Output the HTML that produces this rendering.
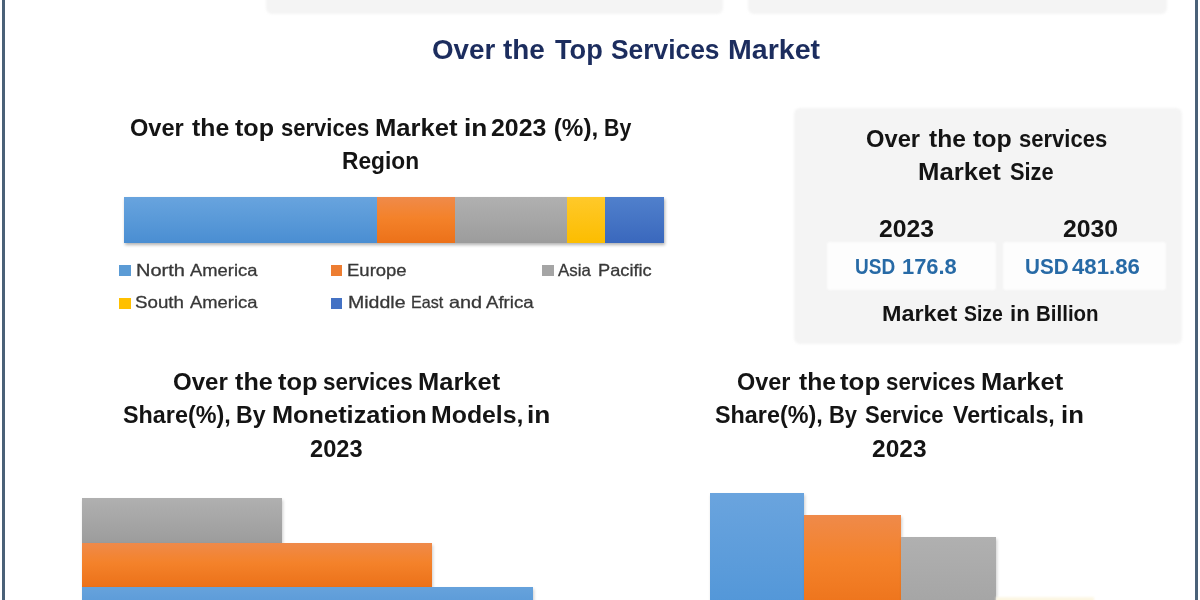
<!DOCTYPE html>
<html><head><meta charset="utf-8"><style>
html,body{margin:0;padding:0;width:1200px;height:600px;overflow:hidden;background:#fff;}
body{position:relative;font-family:"Liberation Sans",sans-serif;}
.t{position:absolute;white-space:pre;transform-origin:0 0;}
.r{position:absolute;}
</style></head><body><div id="w" style="position:absolute;left:0;top:0;width:1200px;height:600px;filter:blur(0.4px)">
<div class="r" style="left:1.5px;top:0;width:3px;height:600px;background:#4a6178"></div>
<div class="r" style="left:1195px;top:0;width:3px;height:600px;background:#4a6178"></div>
<div class="r" style="left:266px;top:-20px;width:457px;height:34px;background:#f4f4f4;border-radius:6px;filter:blur(1px)"></div>
<div class="r" style="left:748px;top:-20px;width:419px;height:34px;background:#f4f4f4;border-radius:6px;filter:blur(1px)"></div>
<div class="r" style="left:794px;top:108px;width:388px;height:236px;background:#f4f4f4;border-radius:6px;filter:blur(0.8px)"></div>
<div class="r" style="left:827px;top:241.5px;width:169px;height:48px;background:#fdfdfd;border-radius:3px;filter:blur(0.8px)"></div>
<div class="r" style="left:1002.5px;top:241.5px;width:163.5px;height:48px;background:#fdfdfd;border-radius:3px;filter:blur(0.8px)"></div>
<!-- region bar -->
<div class="r" style="left:124px;top:197px;width:540px;height:46px;box-shadow:1px 2px 3px rgba(0,0,0,0.3)"></div>
<div class="r" style="left:124px;top:197px;width:253px;height:46px;background:linear-gradient(#68a4de,#4a8ed2)"></div>
<div class="r" style="left:377px;top:197px;width:78px;height:46px;background:linear-gradient(#ef8a4a,#f4822a 45%,#ec7119)"></div>
<div class="r" style="left:455px;top:197px;width:112px;height:46px;background:linear-gradient(#b0b0b0,#9c9c9c)"></div>
<div class="r" style="left:567px;top:197px;width:38px;height:46px;background:linear-gradient(#ffc92a,#fcbd00)"></div>
<div class="r" style="left:605px;top:197px;width:59px;height:46px;background:linear-gradient(#5080cc,#3a68bd)"></div>
<!-- legend squares -->
<div class="r" style="left:119px;top:265px;width:12px;height:11px;background:#5b9bd5"></div>
<div class="r" style="left:331px;top:265px;width:11px;height:11px;background:#ed7d31"></div>
<div class="r" style="left:542px;top:265px;width:12px;height:11px;background:#a5a5a5"></div>
<div class="r" style="left:119px;top:298px;width:12px;height:11px;background:#ffc000"></div>
<div class="r" style="left:331px;top:298px;width:11px;height:11px;background:#4472c4"></div>
<!-- bottom left bars -->
<div class="r" style="left:82px;top:498px;width:200px;height:45px;background:linear-gradient(#b0b0b0,#9c9c9c);box-shadow:1px 2px 3px rgba(0,0,0,0.2)"></div>
<div class="r" style="left:82px;top:543px;width:350px;height:44px;background:linear-gradient(#ef8a4a,#f4822a 45%,#ec7119);box-shadow:1px 2px 3px rgba(0,0,0,0.2)"></div>
<div class="r" style="left:82px;top:587px;width:451px;height:20px;background:linear-gradient(#66a2dc,#5a9ad8);box-shadow:1px 2px 3px rgba(0,0,0,0.2)"></div>
<!-- bottom right bars -->
<div class="r" style="left:710px;top:493px;width:94px;height:120px;background:linear-gradient(#6aa4de,#5196d8);box-shadow:1px 2px 3px rgba(0,0,0,0.2)"></div>
<div class="r" style="left:804px;top:515px;width:97px;height:100px;background:linear-gradient(#ef8a4a,#f4822a 45%,#ec7119);box-shadow:1px 2px 3px rgba(0,0,0,0.2)"></div>
<div class="r" style="left:901px;top:537px;width:95px;height:80px;background:linear-gradient(#b0b0b0,#a3a3a3);box-shadow:1px 2px 3px rgba(0,0,0,0.2)"></div>
<div class="r" style="left:996px;top:597px;width:98px;height:10px;background:linear-gradient(#fdf8e8,#fbefd2);filter:blur(0.8px)"></div>

<div class="t" style="left:431.50px;top:36.37px;font-size:27.91px;line-height:27.91px;font-weight:bold;color:#1c2d5e;transform:scaleX(0.9952)">Over</div>
<div class="t" style="left:503.30px;top:36.37px;font-size:27.91px;line-height:27.91px;font-weight:bold;color:#1c2d5e;transform:scaleX(0.9976)">the</div>
<div class="t" style="left:555.00px;top:36.37px;font-size:27.91px;line-height:27.91px;font-weight:bold;color:#1c2d5e;transform:scaleX(0.9729)">Top</div>
<div class="t" style="left:611.05px;top:36.37px;font-size:27.91px;line-height:27.91px;font-weight:bold;color:#1c2d5e;transform:scaleX(0.9451)">Services</div>
<div class="t" style="left:728.25px;top:36.37px;font-size:27.91px;line-height:27.91px;font-weight:bold;color:#1c2d5e;transform:scaleX(1.0239)">Market</div>
<div class="t" style="left:130.03px;top:115.66px;font-size:24.27px;line-height:24.27px;font-weight:bold;color:#141414;transform:scaleX(0.9722)">Over</div>
<div class="t" style="left:191.75px;top:115.66px;font-size:24.27px;line-height:24.27px;font-weight:bold;color:#141414;transform:scaleX(1.0208)">the</div>
<div class="t" style="left:235.25px;top:115.66px;font-size:24.27px;line-height:24.27px;font-weight:bold;color:#141414;transform:scaleX(1.0338)">top</div>
<div class="t" style="left:280.84px;top:115.66px;font-size:24.27px;line-height:24.27px;font-weight:bold;color:#141414;transform:scaleX(0.9079)">services</div>
<div class="t" style="left:374.89px;top:115.66px;font-size:24.27px;line-height:24.27px;font-weight:bold;color:#141414;transform:scaleX(1.0566)">Market</div>
<div class="t" style="left:464.08px;top:115.66px;font-size:24.27px;line-height:24.27px;font-weight:bold;color:#141414;transform:scaleX(1.0833)">in</div>
<div class="t" style="left:490.73px;top:115.66px;font-size:24.27px;line-height:24.27px;font-weight:bold;color:#141414;transform:scaleX(1.0240)">2023</div>
<div class="t" style="left:553.75px;top:115.66px;font-size:24.27px;line-height:24.27px;font-weight:bold;color:#141414;transform:scaleX(1.0000)">(%),</div>
<div class="t" style="left:603.99px;top:115.66px;font-size:24.27px;line-height:24.27px;font-weight:bold;color:#141414;transform:scaleX(0.8793)">By</div>
<div class="t" style="left:342.10px;top:148.70px;font-size:23.98px;line-height:23.98px;font-weight:bold;color:#141414;transform:scaleX(0.9487)">Region</div>
<div class="t" style="left:135.80px;top:262.55px;font-size:16.72px;line-height:16.72px;font-weight:normal;color:#383838;transform:scaleX(1.1974);-webkit-text-stroke:0.3px #383838">North</div>
<div class="t" style="left:189.50px;top:262.55px;font-size:16.72px;line-height:16.72px;font-weight:normal;color:#383838;transform:scaleX(1.1000);-webkit-text-stroke:0.3px #383838">America</div>
<div class="t" style="left:347.29px;top:262.55px;font-size:16.72px;line-height:16.72px;font-weight:normal;color:#383838;transform:scaleX(1.1077);-webkit-text-stroke:0.3px #383838">Europe</div>
<div class="t" style="left:558.30px;top:262.55px;font-size:16.72px;line-height:16.72px;font-weight:normal;color:#383838;transform:scaleX(1.0121);-webkit-text-stroke:0.3px #383838">Asia</div>
<div class="t" style="left:597.66px;top:262.55px;font-size:16.72px;line-height:16.72px;font-weight:normal;color:#383838;transform:scaleX(1.0904);-webkit-text-stroke:0.3px #383838">Pacific</div>
<div class="t" style="left:135.48px;top:295.05px;font-size:16.72px;line-height:16.72px;font-weight:normal;color:#383838;transform:scaleX(1.1214);-webkit-text-stroke:0.3px #383838">South</div>
<div class="t" style="left:189.50px;top:295.05px;font-size:16.72px;line-height:16.72px;font-weight:normal;color:#383838;transform:scaleX(1.1000);-webkit-text-stroke:0.3px #383838">America</div>
<div class="t" style="left:347.83px;top:295.05px;font-size:16.72px;line-height:16.72px;font-weight:normal;color:#383838;transform:scaleX(1.1688);-webkit-text-stroke:0.3px #383838">Middle</div>
<div class="t" style="left:410.63px;top:295.05px;font-size:16.72px;line-height:16.72px;font-weight:normal;color:#383838;transform:scaleX(0.9656);-webkit-text-stroke:0.3px #383838">East</div>
<div class="t" style="left:449.41px;top:295.05px;font-size:16.72px;line-height:16.72px;font-weight:normal;color:#383838;transform:scaleX(1.1885);-webkit-text-stroke:0.3px #383838">and</div>
<div class="t" style="left:486.40px;top:295.05px;font-size:16.72px;line-height:16.72px;font-weight:normal;color:#383838;transform:scaleX(1.1140);-webkit-text-stroke:0.3px #383838">Africa</div>
<div class="t" style="left:866.02px;top:126.87px;font-size:24.13px;line-height:24.13px;font-weight:bold;color:#141414;transform:scaleX(0.9833)">Over</div>
<div class="t" style="left:928.80px;top:126.87px;font-size:24.13px;line-height:24.13px;font-weight:bold;color:#141414;transform:scaleX(1.0200)">the</div>
<div class="t" style="left:972.70px;top:126.87px;font-size:24.13px;line-height:24.13px;font-weight:bold;color:#141414;transform:scaleX(1.0324)">top</div>
<div class="t" style="left:1019.19px;top:126.87px;font-size:24.13px;line-height:24.13px;font-weight:bold;color:#141414;transform:scaleX(0.9126)">services</div>
<div class="t" style="left:918.27px;top:159.77px;font-size:24.13px;line-height:24.13px;font-weight:bold;color:#141414;transform:scaleX(1.0658)">Market</div>
<div class="t" style="left:1009.60px;top:159.77px;font-size:24.13px;line-height:24.13px;font-weight:bold;color:#141414;transform:scaleX(0.9043)">Size</div>
<div class="t" style="left:878.98px;top:216.86px;font-size:24.27px;line-height:24.27px;font-weight:bold;color:#141414;transform:scaleX(1.0192)">2023</div>
<div class="t" style="left:1062.58px;top:216.86px;font-size:24.27px;line-height:24.27px;font-weight:bold;color:#141414;transform:scaleX(1.0212)">2030</div>
<div class="t" style="left:855.33px;top:256.15px;font-size:21.8px;line-height:21.8px;font-weight:bold;color:#276aa6;transform:scaleX(0.8727)">USD</div>
<div class="t" style="left:902.20px;top:256.15px;font-size:21.8px;line-height:21.8px;font-weight:bold;color:#276aa6;transform:scaleX(1.0038)">176.8</div>
<div class="t" style="left:1024.75px;top:256.15px;font-size:21.8px;line-height:21.8px;font-weight:bold;color:#276aa6;transform:scaleX(0.9477)">USD</div>
<div class="t" style="left:1071.60px;top:256.15px;font-size:21.8px;line-height:21.8px;font-weight:bold;color:#276aa6;transform:scaleX(1.0174)">481.86</div>
<div class="t" style="left:882.20px;top:303.34px;font-size:21.22px;line-height:21.22px;font-weight:bold;color:#141414;transform:scaleX(1.1015)">Market</div>
<div class="t" style="left:964.29px;top:303.34px;font-size:21.22px;line-height:21.22px;font-weight:bold;color:#141414;transform:scaleX(0.9146)">Size</div>
<div class="t" style="left:1009.70px;top:303.34px;font-size:21.22px;line-height:21.22px;font-weight:bold;color:#141414;transform:scaleX(1.0500)">in</div>
<div class="t" style="left:1036.33px;top:303.34px;font-size:21.22px;line-height:21.22px;font-weight:bold;color:#141414;transform:scaleX(0.9661)">Billion</div>
<div class="t" style="left:172.67px;top:371.31px;font-size:23.26px;line-height:23.26px;font-weight:bold;color:#141414;transform:scaleX(1.0346)">Over</div>
<div class="t" style="left:235.30px;top:371.31px;font-size:23.26px;line-height:23.26px;font-weight:bold;color:#141414;transform:scaleX(1.0824)">the</div>
<div class="t" style="left:277.80px;top:371.31px;font-size:23.26px;line-height:23.26px;font-weight:bold;color:#141414;transform:scaleX(1.0914)">top</div>
<div class="t" style="left:322.84px;top:371.31px;font-size:23.26px;line-height:23.26px;font-weight:bold;color:#141414;transform:scaleX(0.9637)">services</div>
<div class="t" style="left:417.81px;top:371.31px;font-size:23.26px;line-height:23.26px;font-weight:bold;color:#141414;transform:scaleX(1.0959)">Market</div>
<div class="t" style="left:123.40px;top:404.31px;font-size:23.26px;line-height:23.26px;font-weight:bold;color:#141414;transform:scaleX(1.0048)">Share(%),</div>
<div class="t" style="left:236.41px;top:404.31px;font-size:23.26px;line-height:23.26px;font-weight:bold;color:#141414;transform:scaleX(0.9963)">By</div>
<div class="t" style="left:271.52px;top:404.31px;font-size:23.26px;line-height:23.26px;font-weight:bold;color:#141414;transform:scaleX(1.0899)">Monetization</div>
<div class="t" style="left:430.66px;top:404.31px;font-size:23.26px;line-height:23.26px;font-weight:bold;color:#141414;transform:scaleX(1.0687)">Models,</div>
<div class="t" style="left:527.44px;top:404.31px;font-size:23.26px;line-height:23.26px;font-weight:bold;color:#141414;transform:scaleX(1.1294)">in</div>
<div class="t" style="left:309.78px;top:438.21px;font-size:23.26px;line-height:23.26px;font-weight:bold;color:#141414;transform:scaleX(1.0160)">2023</div>
<div class="t" style="left:736.69px;top:371.31px;font-size:23.26px;line-height:23.26px;font-weight:bold;color:#141414;transform:scaleX(1.0077)">Over</div>
<div class="t" style="left:798.60px;top:371.31px;font-size:23.26px;line-height:23.26px;font-weight:bold;color:#141414;transform:scaleX(1.0618)">the</div>
<div class="t" style="left:840.40px;top:371.31px;font-size:23.26px;line-height:23.26px;font-weight:bold;color:#141414;transform:scaleX(1.1114)">top</div>
<div class="t" style="left:886.14px;top:371.31px;font-size:23.26px;line-height:23.26px;font-weight:bold;color:#141414;transform:scaleX(0.9593)">services</div>
<div class="t" style="left:981.41px;top:371.31px;font-size:23.26px;line-height:23.26px;font-weight:bold;color:#141414;transform:scaleX(1.0959)">Market</div>
<div class="t" style="left:715.40px;top:404.01px;font-size:23.26px;line-height:23.26px;font-weight:bold;color:#141414;transform:scaleX(1.0048)">Share(%),</div>
<div class="t" style="left:829.21px;top:404.01px;font-size:23.26px;line-height:23.26px;font-weight:bold;color:#141414;transform:scaleX(0.9444)">By</div>
<div class="t" style="left:864.85px;top:404.01px;font-size:23.26px;line-height:23.26px;font-weight:bold;color:#141414;transform:scaleX(0.9506)">Service</div>
<div class="t" style="left:953.10px;top:404.01px;font-size:23.26px;line-height:23.26px;font-weight:bold;color:#141414;transform:scaleX(0.9965)">Verticals,</div>
<div class="t" style="left:1060.89px;top:404.01px;font-size:23.26px;line-height:23.26px;font-weight:bold;color:#141414;transform:scaleX(1.1059)">in</div>
<div class="t" style="left:871.95px;top:438.01px;font-size:23.26px;line-height:23.26px;font-weight:bold;color:#141414;transform:scaleX(1.0540)">2023</div>
</div></body></html>
